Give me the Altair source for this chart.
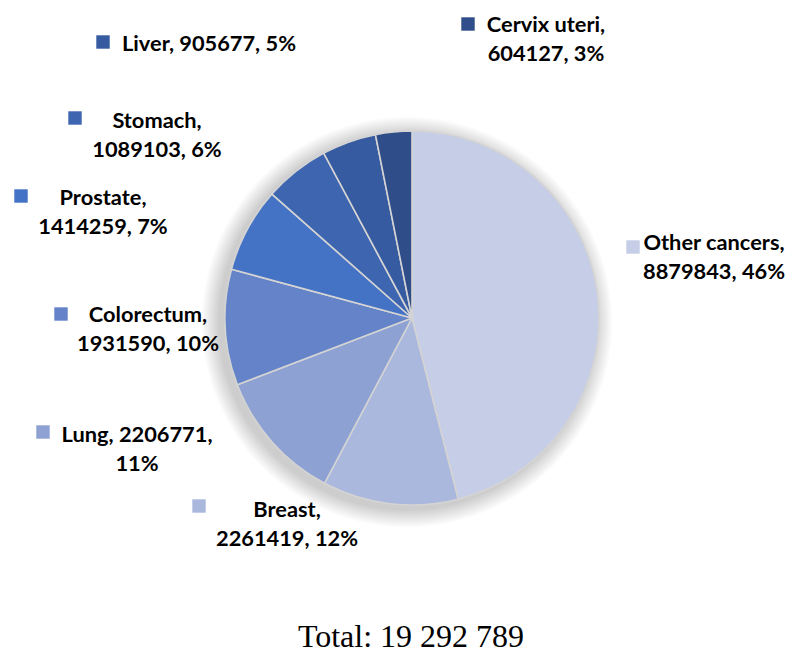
import altair as alt
import pandas as pd

# ---- data ----
categories = ["Other cancers", "Breast", "Lung", "Colorectum",
              "Prostate", "Stomach", "Liver", "Cervix uteri"]
cases = [8879843, 2261419, 2206771, 1931590, 1414259, 1089103, 905677, 604127]
colors = ["#c5cde7", "#abb8de", "#8da1d3", "#6483c8",
          "#4472c4", "#3e65b0", "#365ba0", "#2f4d89"]
total_label = "Total: 19 292 789"

# ---- label layout (pixels) ----
sep1 = [",\n", ",\n", ", ", ",\n", ",\n", ",\n", ", ", ",\n"]
sep2 = [", ", ", ", ",\n", ", ", ", ", ", ", ", ", ", "]
text_x = [714, 287, 137, 148, 103, 157, 209, 546]
text_y = [250, 517, 442, 322, 205, 128, 51, 32]
sq_x = [633, 199, 43, 61, 21, 75, 103, 468]
sq_y = [247, 506, 432, 314, 196, 118, 42, 24]

CX, CY, R = 412, 318, 187
W, H = 794, 655

total = sum(cases)
pct = [round(v / total * 100) for v in cases]
labels = [f"{c}{s1}{v}{s2}{p}%" for c, s1, v, s2, p in zip(categories, sep1, cases, sep2, pct)]

df = pd.DataFrame({
    "category": categories,
    "cases": cases,
    "order": list(range(len(categories))),
    "label": labels,
    "tx": text_x, "ty": text_y, "sx": sq_x, "sy": sq_y,
})

color_scale = alt.Scale(domain=categories, range=colors)
one = pd.DataFrame({"a": [1]})

# soft shadow behind the pie
glow_layers = []
for k in range(1, 11):
    glow_layers.append(
        alt.Chart(one).mark_arc(theta=0, theta2=6.2832, outerRadius=R + 1.8 * k,
                                innerRadius=0, fill="#000000", fillOpacity=0.018,
                                strokeWidth=0).encode(
            x=alt.value(CX - 5), y=alt.value(CY + 4))
    )

pie = alt.Chart(df).mark_arc(outerRadius=R, stroke="#d4d4d4", strokeWidth=1.6).encode(
    theta=alt.Theta("cases:Q", stack=True),
    order=alt.Order("order:Q"),
    color=alt.Color("category:N", scale=color_scale, legend=None),
    x=alt.value(CX), y=alt.value(CY),
)

squares = alt.Chart(df).mark_square(size=180, opacity=1).encode(
    x=alt.X("sx:Q", scale=None, axis=None),
    y=alt.Y("sy:Q", scale=None, axis=None),
    color=alt.Color("category:N", scale=color_scale, legend=None),
)

texts = alt.Chart(df).mark_text(
    font="Lato", fontSize=21.8, fontWeight="bold",
    color="#000000", align="center", baseline="alphabetic",
    lineBreak="\n", lineHeight=28.5,
).encode(
    x=alt.X("tx:Q", scale=None, axis=None),
    y=alt.Y("ty:Q", scale=None, axis=None),
    text="label:N",
)

total_text = alt.Chart(pd.DataFrame({"t": [total_label]})).mark_text(
    font="Liberation Serif", fontSize=32, color="#000000",
    align="center", baseline="alphabetic",
).encode(x=alt.value(411), y=alt.value(647), text="t:N")

chart = alt.layer(*glow_layers, pie, squares, texts, total_text).properties(
    width=W, height=H, padding=0, autosize=alt.AutoSizeParams(type="none"),
    background="white",
).configure_view(stroke=None)

chart.save("out.html", embed_options={"renderer": "svg", "actions": False})
